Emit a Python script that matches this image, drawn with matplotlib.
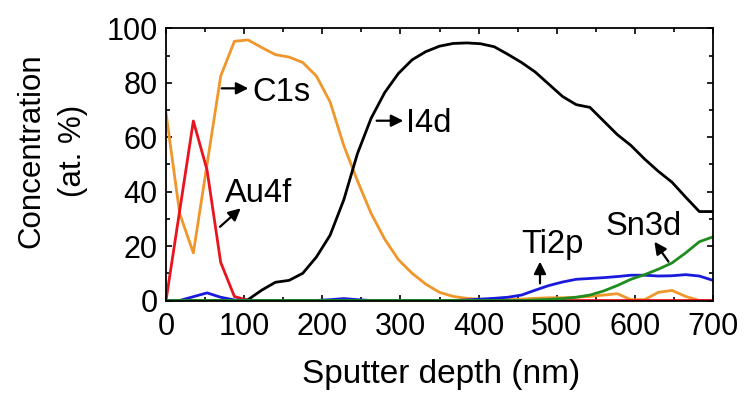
import numpy as np
import matplotlib
matplotlib.use("Agg")
import matplotlib.pyplot as plt
from matplotlib.ticker import MultipleLocator

plt.rcParams['font.family'] = ['Liberation Sans', 'DejaVu Sans']

# sputter depth grid (nm)
depth = [0, 17.5, 35, 52.5, 70, 87.5, 105, 122.5, 140, 157.5,
         175, 192.5, 210, 227.5, 245, 262.5, 280, 297.5, 315, 332.5,
         350, 367.5, 385, 402.5, 420, 437.5, 455, 472.5, 490, 507.5,
         525, 542.5, 560, 577.5, 595, 612.5, 630, 647.5, 665, 682.5, 700]

c1s = [69, 32, 17.5, 50, 82.5, 95.3, 95.8, 93, 90.4, 89.5,
       87.5, 82.5, 73, 57, 44, 32, 22.5, 15, 10, 6,
       3, 1.5, 0.8, 0.5, 0.3, 0.3, 0.5, 0.8, 1, 1,
       1.2, 1.5, 2, 2.5, 0.3, 0.3, 3, 3.7, 1.5, 0, 0]

i4d = [0, 0, 0, 0, 0, 0, 0.3, 3.8, 6.7, 7.4,
       10, 16, 24, 37, 54, 67, 76.5, 83.5, 88.5, 91.5,
       93.5, 94.5, 94.7, 94.4, 93.3, 90.5, 87.5, 84, 79.5, 75,
       72, 71, 66, 61, 57, 52, 47.5, 43.5, 38, 32.7, 32.7]

au4f = [0, 33, 66, 48, 14, 1.5] + [0] * 35

ti2p = [0, 0, 1.4, 2.8, 1.2, 0.2, 0, 0, 0, 0,
        0, 0, 0.3, 0.7, 0.3, 0, 0, 0, 0, 0,
        0, 0, 0.2, 0.5, 0.8, 1.2, 2, 3.8, 5.5, 6.8,
        7.8, 8.1, 8.4, 8.8, 9.3, 9.3, 9, 9.1, 9.5, 9, 7.4]

sn3d = [0] * 27 + [0.2, 0.4, 0.7, 1.2, 2, 3.5, 5.5, 7.8, 9.5,
                   11.5, 13.8, 17.5, 21.6, 23.4]

fig = plt.figure(figsize=(7.45, 4), dpi=100)
ax = fig.add_axes([166/745, 1-300.5/400, 547/745, 272/400])

lw = 2.0
ax.plot(depth, c1s, color='#F0962A', lw=lw)
ax.plot(depth, i4d, color='k', lw=lw)
ax.plot(depth, au4f, color='#E8141E', lw=lw)
ax.plot(depth, ti2p, color='#1A1ADC', lw=lw)
ax.plot(depth, sn3d, color='#1E8C1E', lw=lw)

ax.set_xlim(0, 700)
ax.set_ylim(0, 100)
ax.xaxis.set_major_locator(MultipleLocator(100))
ax.xaxis.set_minor_locator(MultipleLocator(50))
ax.yaxis.set_major_locator(MultipleLocator(20))
ax.yaxis.set_minor_locator(MultipleLocator(10))
ax.tick_params(which='both', direction='in', top=True, right=True, width=1.2)
ax.tick_params(which='major', length=4.5, labelsize=22)
ax.tick_params(which='minor', length=2.8)
ax.tick_params(axis='x', pad=8)
ax.tick_params(axis='y', pad=6)
for s in ax.spines.values():
    s.set_linewidth(1.3)

fig.text(441/745, 1-375/400, 'Sputter depth (nm)', ha='center', va='center', fontsize=24)
fig.text(52/745, 1-151/400, 'Concentration\n(at. %)', ha='center', va='center',
         rotation=90, fontsize=22.5, linespacing=1.5)

aprops = dict(arrowstyle='-|>', color='k', lw=1.6, mutation_scale=18,
              shrinkA=0, shrinkB=0)
fs = 23.5
# C1s
ax.annotate('', xy=(105.4, 78), xytext=(71.3, 78), arrowprops=aprops)
ax.text(110, 73.5, 'C1s', fontsize=fs, va='baseline')
# I4d
ax.annotate('', xy=(303.7, 66.1), xytext=(269.6, 66.1), arrowprops=aprops)
ax.text(307, 61.8, 'I4d', fontsize=fs, va='baseline')
# Au4f
ax.annotate('', xy=(95.6, 33.9), xytext=(69.1, 27.1), arrowprops=aprops)
ax.text(75, 36.3, 'Au4f', fontsize=fs, va='baseline')
# Ti2p
ax.annotate('', xy=(478.6, 14.3), xytext=(478.6, 6.3), arrowprops=aprops)
ax.text(454, 17.5, 'Ti2p', fontsize=fs, va='baseline')
# Sn3d
ax.annotate('', xy=(625, 21.6), xytext=(643, 14.3), arrowprops=aprops)
ax.text(562, 24.1, 'Sn3d', fontsize=fs, va='baseline')

fig.savefig('out.png', dpi=100)
